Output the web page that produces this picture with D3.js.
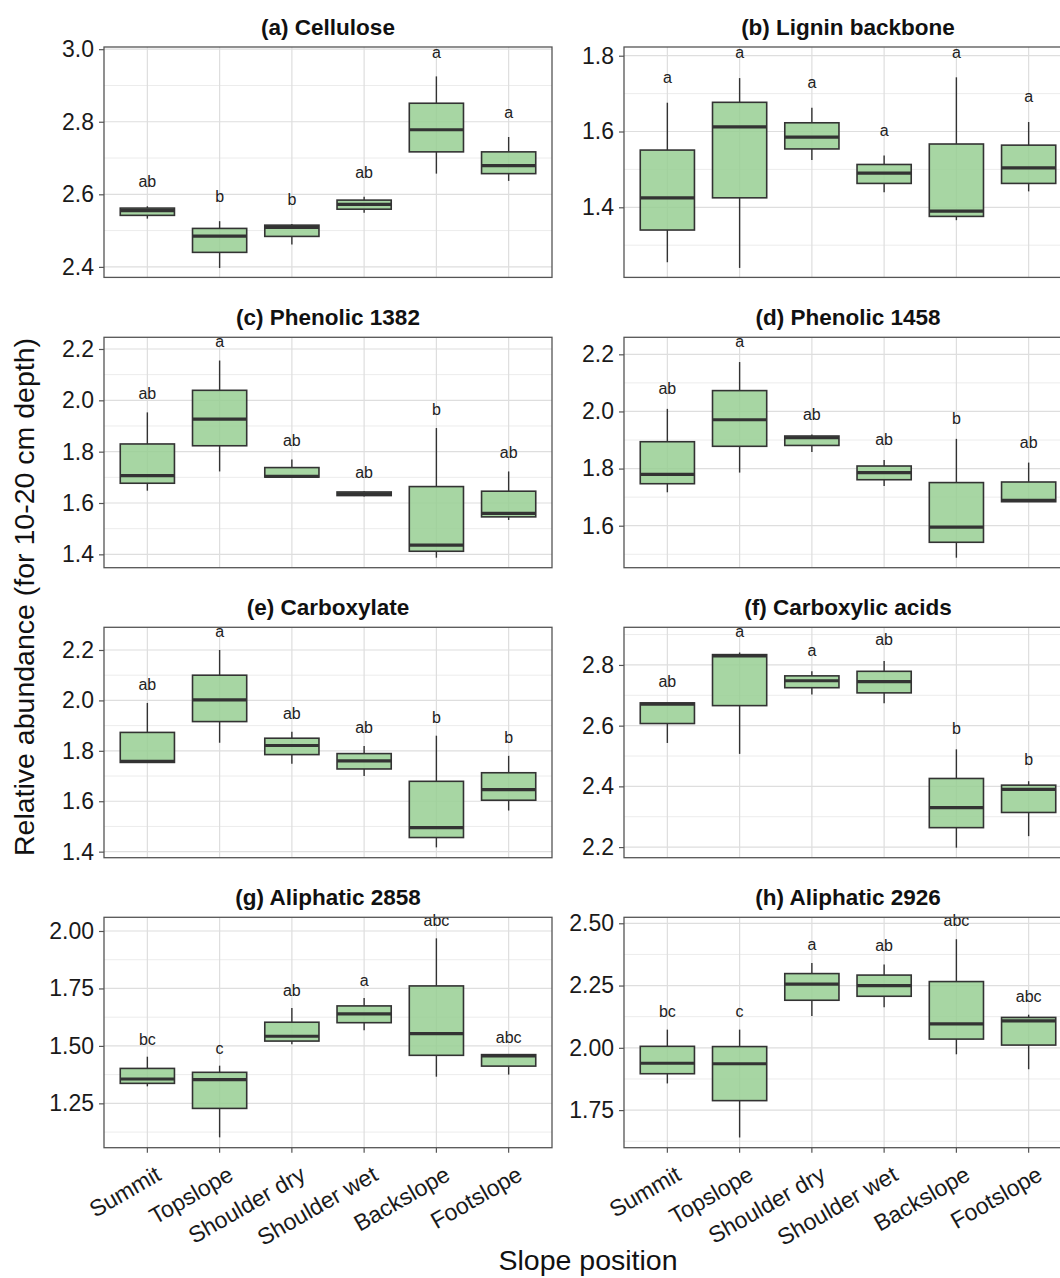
<!DOCTYPE html>
<html>
<head>
<meta charset="utf-8">
<script src="https://cdn.jsdelivr.net/npm/d3@7"></script>
<style>
  html, body { margin: 0; padding: 0; background: #fff; }
  svg { display: block; font-family: "Liberation Sans", Arial, Helvetica, sans-serif; }
</style>
</head>
<body>
<svg id="chart" width="1060" height="1278"></svg>
<script>
// ---------------- DATA ----------------
const categories = ["Summit", "Topslope", "Shoulder dry", "Shoulder wet", "Backslope", "Footslope"];

// each row: [whisker min, Q1, median, Q3, whisker max]
const cellulose = [
  [2.533, 2.542, 2.555, 2.562, 2.567],
  [2.397, 2.440, 2.485, 2.506, 2.526],
  [2.462, 2.484, 2.509, 2.515, 2.518],
  [2.549, 2.559, 2.572, 2.584, 2.593],
  [2.657, 2.717, 2.778, 2.851, 2.925],
  [2.637, 2.657, 2.679, 2.717, 2.758]
];
const cellulosePlotLetters = ["ab", "b", "b", "ab", "a", "a"];

const lignin = [
  [1.255, 1.340, 1.425, 1.551, 1.676],
  [1.240, 1.425, 1.612, 1.677, 1.741],
  [1.525, 1.554, 1.585, 1.623, 1.663],
  [1.440, 1.463, 1.490, 1.513, 1.537],
  [1.366, 1.376, 1.390, 1.567, 1.743],
  [1.442, 1.463, 1.504, 1.564, 1.625]
];
const ligninLetters = ["a", "a", "a", "a", "a", "a"];

const phenolic1382 = [
  [1.648, 1.677, 1.707, 1.830, 1.953],
  [1.723, 1.823, 1.927, 2.039, 2.155],
  [1.701, 1.701, 1.704, 1.738, 1.769],
  [1.625, 1.629, 1.636, 1.643, 1.646],
  [1.387, 1.412, 1.436, 1.664, 1.892],
  [1.534, 1.546, 1.560, 1.646, 1.723]
];
const phenolic1382Letters = ["ab", "a", "ab", "ab", "b", "ab"];

const phenolic1458 = [
  [1.717, 1.747, 1.780, 1.894, 2.009],
  [1.786, 1.878, 1.971, 2.073, 2.173],
  [1.858, 1.881, 1.908, 1.914, 1.919],
  [1.739, 1.761, 1.786, 1.809, 1.830],
  [1.488, 1.542, 1.595, 1.751, 1.904],
  [1.684, 1.684, 1.689, 1.753, 1.821]
];
const phenolic1458Letters = ["ab", "a", "ab", "ab", "b", "ab"];

const carboxylate = [
  [1.754, 1.754, 1.758, 1.873, 1.990],
  [1.832, 1.916, 2.002, 2.100, 2.200],
  [1.749, 1.785, 1.821, 1.850, 1.876],
  [1.700, 1.728, 1.760, 1.789, 1.819],
  [1.417, 1.456, 1.495, 1.679, 1.860],
  [1.563, 1.604, 1.646, 1.713, 1.780]
];
const carboxylateLetters = ["ab", "a", "ab", "ab", "b", "b"];

const carboxylicAcids = [
  [2.543, 2.607, 2.671, 2.675, 2.675],
  [2.507, 2.666, 2.830, 2.834, 2.841],
  [2.703, 2.725, 2.748, 2.764, 2.779],
  [2.674, 2.708, 2.745, 2.779, 2.813],
  [2.198, 2.264, 2.330, 2.426, 2.522],
  [2.236, 2.314, 2.390, 2.404, 2.417]
];
const carboxylicAcidsLetters = ["ab", "a", "a", "ab", "b", "b"];

const aliphatic2858 = [
  [1.324, 1.337, 1.356, 1.402, 1.453],
  [1.102, 1.228, 1.353, 1.385, 1.414],
  [1.507, 1.521, 1.542, 1.603, 1.665],
  [1.568, 1.601, 1.639, 1.674, 1.708],
  [1.366, 1.459, 1.553, 1.761, 1.968],
  [1.375, 1.412, 1.457, 1.462, 1.462]
];
const aliphatic2858Letters = ["bc", "c", "ab", "a", "abc", "abc"];

const aliphatic2926 = [
  [1.857, 1.896, 1.938, 2.006, 2.073],
  [1.640, 1.788, 1.936, 2.005, 2.073],
  [2.128, 2.191, 2.256, 2.298, 2.341],
  [2.163, 2.207, 2.250, 2.292, 2.335],
  [1.974, 2.035, 2.096, 2.266, 2.436],
  [1.914, 2.011, 2.108, 2.122, 2.133]
];
const aliphatic2926Letters = ["bc", "c", "a", "ab", "abc", "abc"];

const panelTitles = ["(a) Cellulose", "(b) Lignin backbone", "(c) Phenolic 1382", "(d) Phenolic 1458",
                     "(e) Carboxylate", "(f) Carboxylic acids", "(g) Aliphatic 2858", "(h) Aliphatic 2926"];

const yTicksA = [2.4, 2.6, 2.8, 3.0];
const yTicksB = [1.4, 1.6, 1.8];
const yTicksC = [1.4, 1.6, 1.8, 2.0, 2.2];
const yTicksD = [1.6, 1.8, 2.0, 2.2];
const yTicksE = [1.4, 1.6, 1.8, 2.0, 2.2];
const yTicksF = [2.2, 2.4, 2.6, 2.8];
const yTicksG = [1.25, 1.50, 1.75, 2.00];
const yTicksH = [1.75, 2.00, 2.25, 2.50];

const yDomainA = [2.371, 3.006];
const yDomainB = [1.215, 1.823];
const yDomainC = [1.348, 2.2455];
const yDomainD = [1.453, 2.2596];
const yDomainE = [1.376, 2.290];
const yDomainF = [2.165, 2.924];
const yDomainG = [1.057, 2.0596];
const yDomainH = [1.599, 2.524];

const letterOffset = 0.052; // letters sit this far above the whisker top (data units)

const xTitle = "Slope position";
const yTitle = "Relative abundance (for 10-20 cm depth)";

// ---------------- BUILD ----------------
const panels = [
  { title: panelTitles[0], stats: cellulose, letters: cellulosePlotLetters, ticks: yTicksA, domain: yDomainA, fmt: ".1f" },
  { title: panelTitles[1], stats: lignin, letters: ligninLetters, ticks: yTicksB, domain: yDomainB, fmt: ".1f" },
  { title: panelTitles[2], stats: phenolic1382, letters: phenolic1382Letters, ticks: yTicksC, domain: yDomainC, fmt: ".1f" },
  { title: panelTitles[3], stats: phenolic1458, letters: phenolic1458Letters, ticks: yTicksD, domain: yDomainD, fmt: ".1f" },
  { title: panelTitles[4], stats: carboxylate, letters: carboxylateLetters, ticks: yTicksE, domain: yDomainE, fmt: ".1f" },
  { title: panelTitles[5], stats: carboxylicAcids, letters: carboxylicAcidsLetters, ticks: yTicksF, domain: yDomainF, fmt: ".1f" },
  { title: panelTitles[6], stats: aliphatic2858, letters: aliphatic2858Letters, ticks: yTicksG, domain: yDomainG, fmt: ".2f" },
  { title: panelTitles[7], stats: aliphatic2926, letters: aliphatic2926Letters, ticks: yTicksH, domain: yDomainH, fmt: ".2f" }
];

const svg = d3.select("#chart");
svg.append("rect").attr("width", 1060).attr("height", 1278).attr("fill", "#fff");

const colX = [104, 624];
const rowY = [47, 337.3, 627.3, 917.3];
const pw = 448, ph = 230.4;

const FILL = "#98cf93";
const LINE = "#333333";

panels.forEach((p, i) => {
  const col = i % 2, row = Math.floor(i / 2);
  const x0 = colX[col], y0 = rowY[row];
  const g = svg.append("g").attr("transform", `translate(${x0},${y0})`);

  const x = d3.scalePoint().domain(categories).range([0, pw]).padding(0.6);
  const y = d3.scaleLinear().domain(p.domain).range([ph, 0]);
  const step = x.step();
  const bw = step * 0.75;

  // minor grid
  const tstep = p.ticks[1] - p.ticks[0];
  const minor = [];
  for (let k = -1; k < p.ticks.length; k++) {
    const v = (k < 0 ? p.ticks[0] - tstep / 2 : p.ticks[k] + tstep / 2);
    if (v > p.domain[0] && v < p.domain[1]) minor.push(v);
  }
  g.selectAll("line.minor").data(minor).join("line")
    .attr("x1", 0).attr("x2", pw)
    .attr("y1", d => y(d)).attr("y2", d => y(d))
    .attr("stroke", "#ececec").attr("stroke-width", 1);
  // major grid
  g.selectAll("line.major").data(p.ticks).join("line")
    .attr("x1", 0).attr("x2", pw)
    .attr("y1", d => y(d)).attr("y2", d => y(d))
    .attr("stroke", "#dedede").attr("stroke-width", 1.2);
  g.selectAll("line.vgrid").data(categories).join("line")
    .attr("x1", d => x(d)).attr("x2", d => x(d))
    .attr("y1", 0).attr("y2", ph)
    .attr("stroke", "#dedede").attr("stroke-width", 1.2);

  const data = p.stats.map((s, j) => ({ cat: categories[j], min: s[0], q1: s[1], med: s[2], q3: s[3], max: s[4], letter: p.letters[j] }));

  const box = g.selectAll("g.box").data(data).join("g");
  box.append("line")
    .attr("x1", d => x(d.cat)).attr("x2", d => x(d.cat))
    .attr("y1", d => y(d.max)).attr("y2", d => y(d.q3))
    .attr("stroke", LINE).attr("stroke-width", 1.4);
  box.append("line")
    .attr("x1", d => x(d.cat)).attr("x2", d => x(d.cat))
    .attr("y1", d => y(d.q1)).attr("y2", d => y(d.min))
    .attr("stroke", LINE).attr("stroke-width", 1.4);
  box.append("rect")
    .attr("x", d => x(d.cat) - bw / 2).attr("width", bw)
    .attr("y", d => y(d.q3)).attr("height", d => Math.max(0.5, y(d.q1) - y(d.q3)))
    .attr("fill", FILL).attr("fill-opacity", 0.85)
    .attr("stroke", LINE).attr("stroke-width", 1.6);
  box.append("line")
    .attr("x1", d => x(d.cat) - bw / 2).attr("x2", d => x(d.cat) + bw / 2)
    .attr("y1", d => y(d.med)).attr("y2", d => y(d.med))
    .attr("stroke", LINE).attr("stroke-width", 3.2);
  box.append("text")
    .attr("x", d => x(d.cat)).attr("y", d => y(d.max + letterOffset))
    .attr("text-anchor", "middle").attr("font-size", 16).attr("fill", "#222")
    .text(d => d.letter);

  // border
  g.append("rect").attr("width", pw).attr("height", ph)
    .attr("fill", "none").attr("stroke", "#555").attr("stroke-width", 1.3);

  // y axis
  const ya = g.append("g").call(d3.axisLeft(y).tickValues(p.ticks).tickSize(5).tickPadding(5).tickFormat(d3.format(p.fmt)));
  ya.select(".domain").remove();
  ya.selectAll(".tick line").attr("stroke", "#555").attr("stroke-width", 1.2);
  ya.selectAll(".tick text").attr("font-size", 23).attr("fill", "#1a1a1a")
    .attr("font-family", "'Liberation Sans', Arial, sans-serif");

  // title
  svg.append("text").attr("x", x0 + pw / 2).attr("y", y0 - 12)
    .attr("text-anchor", "middle").attr("font-size", 22.5).attr("font-weight", "bold").attr("fill", "#111")
    .text(p.title);

  // x axis on bottom row
  if (row === 3) {
    g.selectAll("line.xtick").data(categories).join("line")
      .attr("x1", d => x(d)).attr("x2", d => x(d))
      .attr("y1", ph).attr("y2", ph + 5)
      .attr("stroke", "#555").attr("stroke-width", 1.2);
    g.selectAll("text.xlab").data(categories).join("text")
      .attr("transform", d => `translate(${x(d) + 7},${ph + 17}) rotate(-30)`)
      .attr("text-anchor", "end").attr("dy", "0.72em")
      .attr("font-size", 23).attr("fill", "#1a1a1a")
      .text(d => d);
  }
});

// axis titles
svg.append("text").attr("x", 588).attr("y", 1270)
  .attr("text-anchor", "middle").attr("font-size", 28.5).attr("fill", "#111")
  .text(xTitle);
svg.append("text").attr("transform", "translate(34,597) rotate(-90)")
  .attr("text-anchor", "middle").attr("font-size", 28.5).attr("fill", "#111")
  .text(yTitle);
</script>
</body>
</html>
